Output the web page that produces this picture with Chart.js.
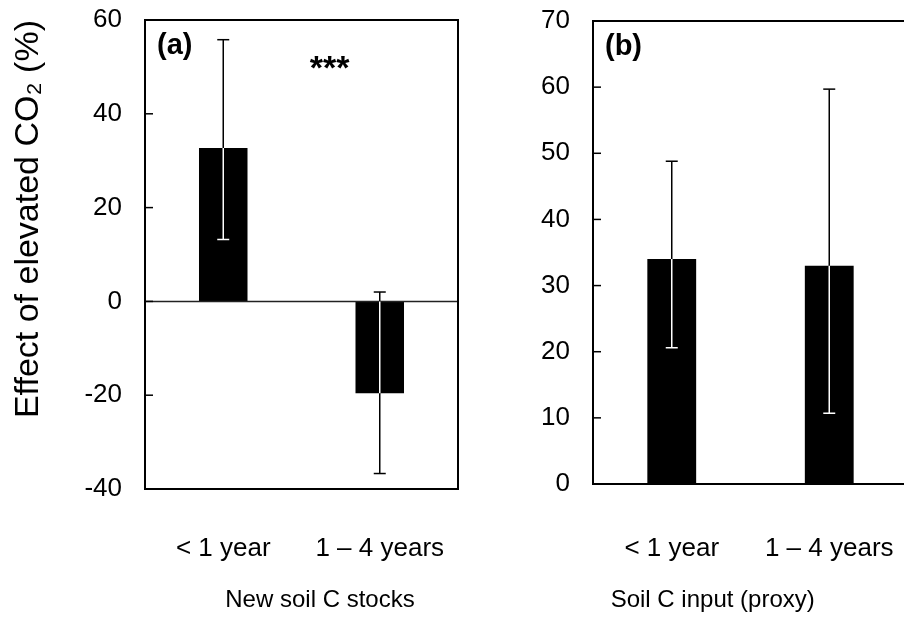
<!DOCTYPE html>
<html>
<head>
<meta charset="utf-8">
<script src="https://cdn.jsdelivr.net/npm/chart.js@4"></script>
<style>
  html, body { margin: 0; padding: 0; background: #fff; overflow: hidden; width: 904px; height: 630px; }
  canvas { position: absolute; top: 0; }
  #stocksChart { left: 0; }
  #inputChart { left: 470px; }
</style>
</head>
<body>
<canvas id="stocksChart" width="470" height="630"></canvas>
<canvas id="inputChart" width="450" height="630"></canvas>
<script>
const categories = ['< 1 year', '1 \u2013 4 years'];

// (a) new soil C stocks
const stocksMean = [32.7, -19.6];
const stocksLow = [13.2, -36.7];
const stocksHigh = [55.8, 2.0];

// (b) soil C input (proxy)
const inputMean = [34.0, 33.0];
const inputLow = [20.6, 10.7];
const inputHigh = [48.8, 59.7];

const FONT = "'Liberation Sans', Arial, sans-serif";

// frame, inward ticks, zero line, error bars, panel letters
const panelDecor = {
  id: 'panelDecor',
  afterDatasetsDraw(chart, args, opts) {
    const ctx = chart.ctx;
    const area = chart.chartArea;
    const y = chart.scales.y;
    const meta = chart.getDatasetMeta(0);
    ctx.save();

    if (opts.zeroLine) {
      const y0 = y.getPixelForValue(0);
      ctx.strokeStyle = '#222';
      ctx.lineWidth = 1.5;
      ctx.beginPath();
      ctx.moveTo(area.left, y0);
      ctx.lineTo(area.right, y0);
      ctx.stroke();
    }

    // error bars: black outside the bar, white where they run over it
    ctx.lineWidth = 1.5;
    meta.data.forEach((bar, i) => {
      const lo = opts.low[i], hi = opts.high[i], m = opts.mean[i];
      const barMin = Math.min(0, m), barMax = Math.max(0, m);
      const x = bar.x;
      const yLo = y.getPixelForValue(lo), yHi = y.getPixelForValue(hi);
      ctx.strokeStyle = '#000';
      ctx.beginPath();
      ctx.moveTo(x, yHi);
      ctx.lineTo(x, yLo);
      ctx.stroke();
      const segTop = y.getPixelForValue(Math.min(Math.max(hi, barMin), barMax));
      const segBot = y.getPixelForValue(Math.max(Math.min(lo, barMax), barMin));
      ctx.strokeStyle = '#fff';
      ctx.beginPath();
      ctx.moveTo(x, segTop);
      ctx.lineTo(x, segBot);
      ctx.stroke();
      [lo, hi].forEach(v => {
        const inside = v > barMin && v < barMax;
        const py = y.getPixelForValue(v);
        ctx.strokeStyle = inside ? '#fff' : '#000';
        ctx.beginPath();
        ctx.moveTo(x - 6, py);
        ctx.lineTo(x + 6, py);
        ctx.stroke();
      });
    });

    // tick marks pointing into the plot
    ctx.strokeStyle = '#000';
    ctx.lineWidth = 1.5;
    y.ticks.forEach(t => {
      const py = y.getPixelForValue(t.value);
      ctx.beginPath();
      ctx.moveTo(area.left, py);
      ctx.lineTo(area.left + 8, py);
      ctx.stroke();
    });

    ctx.lineWidth = 2;
    ctx.strokeRect(area.left, area.top, area.right - area.left, area.bottom - area.top);

    ctx.fillStyle = '#000';
    ctx.textBaseline = 'middle';
    ctx.textAlign = 'left';
    ctx.font = 'bold 29px ' + FONT;
    ctx.fillText(opts.letter, area.left + 12, area.top + 26);

    if (opts.stars) {
      ctx.textAlign = 'center';
      ctx.font = 'bold 34px ' + FONT;
      ctx.fillText(opts.stars, area.left + (area.right - area.left) * 0.59, area.top + 50);
    }

    ctx.textAlign = 'center';
    ctx.font = '24px ' + FONT;
    ctx.fillText(opts.caption, area.left + (area.right - area.left) * opts.captionAt, 600);
    ctx.restore();
  }
};

function noPad(s) {
  s.paddingLeft = 0;
  s.paddingRight = 0;
  s.paddingTop = 0;
  s.paddingBottom = 0;
}

function makePanel(id, values, low, high, yMin, yMax, step, cfg) {
  const ctx = document.getElementById(id).getContext('2d');
  return new Chart(ctx, {
    type: 'bar',
    data: {
      labels: categories,
      datasets: [{
        data: values,
        backgroundColor: '#000',
        borderWidth: 0,
        barPercentage: 0.31,
        categoryPercentage: 1.0
      }]
    },
    options: {
      responsive: false,
      animation: false,
      devicePixelRatio: 1,
      layout: { padding: { top: cfg.top, right: cfg.right, left: 0, bottom: 0 } },
      plugins: {
        legend: { display: false },
        tooltip: { enabled: false },
        panelDecor: {
          mean: values, low: low, high: high,
          zeroLine: cfg.zeroLine, letter: cfg.letter, stars: cfg.stars,
          caption: cfg.caption, captionAt: cfg.captionAt
        }
      },
      scales: {
        x: {
          grid: { display: false, drawTicks: false },
          border: { display: false },
          ticks: { color: '#000', font: { family: FONT, size: 26 }, padding: cfg.xPad, maxRotation: 0 },
          afterFit: s => { s.height = cfg.xHeight; noPad(s); }
        },
        y: {
          min: yMin,
          max: yMax,
          grid: { display: false, drawTicks: false },
          border: { display: false },
          ticks: { stepSize: step, color: '#000', font: { family: FONT, size: 26 }, padding: 23 },
          title: {
            display: !!cfg.yTitle,
            text: cfg.yTitle || '',
            align: 'end',
            color: '#000',
            font: { family: FONT, size: 34 },
            padding: { top: 8, bottom: 0 }
          },
          afterFit: s => { s.width = cfg.yWidth; noPad(s); }
        }
      }
    },
    plugins: [panelDecor]
  });
}

makePanel('stocksChart', stocksMean, stocksLow, stocksHigh, -40, 60, 20, {
  top: 20, right: 12, xHeight: 141, yWidth: 145, xPad: 44,
  zeroLine: true, letter: '(a)', stars: '***',
  caption: 'New soil C stocks', captionAt: 0.559,
  yTitle: 'Effect of elevated CO\u2082 (%)'
});

makePanel('inputChart', inputMean, inputLow, inputHigh, 0, 70, 10, {
  top: 21, right: 12, xHeight: 146, yWidth: 123, xPad: 49,
  zeroLine: false, letter: '(b)', stars: '',
  caption: 'Soil C input (proxy)', captionAt: 0.38
});
</script>
</body>
</html>
